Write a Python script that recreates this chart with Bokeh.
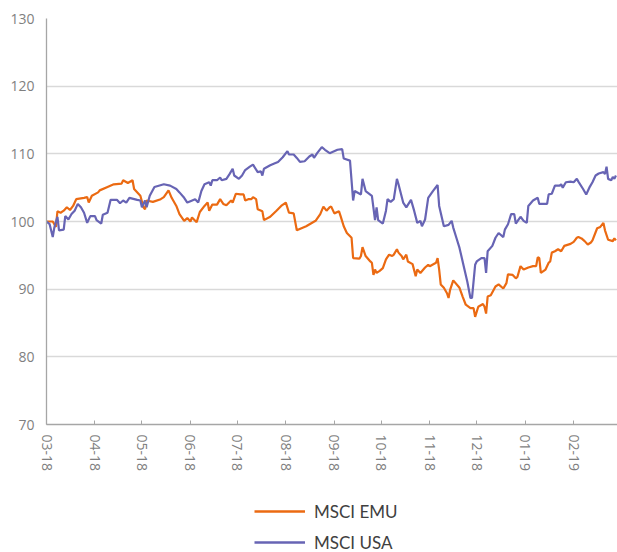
import pandas as pd
from bokeh.plotting import figure
from bokeh.layouts import column
from bokeh.models import (FixedTicker, DatetimeTickFormatter, Range1d, Legend,
                          LegendItem, ColumnDataSource)
from bokeh.embed import file_html
from bokeh.resources import INLINE

series_names = ["MSCI EMU", "MSCI USA"]
series_colors = ["#EB6A12", "#6764B4"]

emu_dates = [
    "2018-03-01", "2018-03-05", "2018-03-07", "2018-03-08", "2018-03-10", "2018-03-12", "2018-03-14", "2018-03-16", "2018-03-18", "2018-03-20",
    "2018-03-25", "2018-03-27", "2018-03-28", "2018-03-30", "2018-04-03", "2018-04-04", "2018-04-09", "2018-04-13", "2018-04-18", "2018-04-19",
    "2018-04-22", "2018-04-25", "2018-04-26", "2018-04-30", "2018-05-02", "2018-05-03", "2018-05-04", "2018-05-08", "2018-05-13", "2018-05-15",
    "2018-05-18", "2018-05-20", "2018-05-23", "2018-05-25", "2018-05-28", "2018-05-30", "2018-06-01", "2018-06-02", "2018-06-05", "2018-06-07",
    "2018-06-10", "2018-06-12", "2018-06-13", "2018-06-15", "2018-06-18", "2018-06-20", "2018-06-22", "2018-06-24", "2018-06-27", "2018-06-28",
    "2018-06-30", "2018-07-03", "2018-07-05", "2018-07-06", "2018-07-08", "2018-07-10", "2018-07-11", "2018-07-13", "2018-07-14", "2018-07-17",
    "2018-07-18", "2018-07-22", "2018-07-26", "2018-07-29", "2018-08-01", "2018-08-03", "2018-08-06", "2018-08-08", "2018-08-11", "2018-08-14",
    "2018-08-17", "2018-08-20", "2018-08-23", "2018-08-25", "2018-08-27", "2018-08-29", "2018-08-30", "2018-09-01", "2018-09-04", "2018-09-05",
    "2018-09-07", "2018-09-09", "2018-09-12", "2018-09-13", "2018-09-17", "2018-09-18", "2018-09-19", "2018-09-21", "2018-09-24", "2018-09-25",
    "2018-09-26", "2018-09-27", "2018-09-28", "2018-09-30", "2018-10-02", "2018-10-04", "2018-10-06", "2018-10-08", "2018-10-09", "2018-10-11",
    "2018-10-12", "2018-10-14", "2018-10-15", "2018-10-17", "2018-10-18", "2018-10-21", "2018-10-23", "2018-10-24", "2018-10-26", "2018-10-29",
    "2018-10-31", "2018-11-01", "2018-11-05", "2018-11-06", "2018-11-07", "2018-11-08", "2018-11-10", "2018-11-12", "2018-11-13", "2018-11-14",
    "2018-11-16", "2018-11-20", "2018-11-22", "2018-11-24", "2018-11-27", "2018-11-29", "2018-11-30", "2018-12-02", "2018-12-05", "2018-12-06",
    "2018-12-07", "2018-12-08", "2018-12-10", "2018-12-13", "2018-12-15", "2018-12-18", "2018-12-20", "2018-12-21", "2018-12-24", "2018-12-26",
    "2018-12-27", "2018-12-29", "2018-12-31", "2019-01-03", "2019-01-06", "2019-01-08", "2019-01-09", "2019-01-10", "2019-01-11", "2019-01-14",
    "2019-01-16", "2019-01-17", "2019-01-18", "2019-01-20", "2019-01-22", "2019-01-24", "2019-01-26", "2019-01-30", "2019-02-01", "2019-02-03",
    "2019-02-04", "2019-02-06", "2019-02-08", "2019-02-10", "2019-02-12", "2019-02-13", "2019-02-16", "2019-02-18", "2019-02-20", "2019-02-21",
    "2019-02-23", "2019-02-26", "2019-02-27", "2019-02-28",
]
emu_values = [
    100.0, 100.0, 99.2, 101.5, 101.3, 101.6, 102.1, 101.7, 102.3, 103.3,
    103.5, 103.6, 102.8, 103.8, 104.3, 104.6, 105.1, 105.5, 105.6, 106.1,
    105.7, 106.1, 104.8, 103.8, 102.1, 101.8, 103.1, 102.9, 103.3, 103.6,
    104.6, 103.5, 102.3, 101.1, 100.1, 100.5, 100.0, 100.6, 99.9, 101.4,
    102.3, 102.8, 101.6, 102.5, 102.5, 103.3, 102.6, 102.4, 103.1, 102.8,
    104.1, 104.0, 104.0, 103.1, 103.3, 103.3, 103.6, 103.3, 101.8, 101.5,
    100.2, 100.7, 101.6, 102.3, 102.8, 101.3, 101.2, 98.7, 99.0, 99.3,
    99.7, 100.1, 101.1, 102.2, 101.6, 102.1, 102.2, 101.2, 101.5, 100.8,
    99.3, 98.3, 97.6, 94.6, 94.5, 94.9, 96.2, 94.9, 94.1, 93.9,
    92.1, 92.9, 92.4, 92.7, 93.1, 94.4, 95.1, 94.9, 95.1, 95.9,
    95.4, 94.9, 94.4, 95.1, 94.1, 93.7, 91.9, 92.9, 92.4, 93.2,
    93.6, 93.4, 93.9, 94.6, 92.9, 90.7, 90.2, 89.4, 88.7, 89.9,
    91.3, 90.2, 88.9, 87.7, 87.2, 87.2, 85.9, 87.4, 87.8, 87.4,
    86.4, 88.9, 89.1, 90.4, 90.7, 90.1, 90.9, 92.2, 92.1, 91.6,
    91.8, 93.4, 92.9, 93.2, 93.4, 93.4, 94.7, 94.6, 92.4, 92.9,
    93.9, 94.1, 95.4, 95.6, 95.9, 95.6, 96.4, 96.7, 97.0, 97.6,
    97.7, 97.5, 97.1, 96.6, 96.9, 97.2, 99.0, 99.2, 99.8, 98.7,
    97.3, 97.1, 97.5, 97.2,
]

usa_dates = [
    "2018-03-01", "2018-03-03", "2018-03-05", "2018-03-06", "2018-03-08", "2018-03-09", "2018-03-12", "2018-03-13", "2018-03-15", "2018-03-17",
    "2018-03-19", "2018-03-21", "2018-03-23", "2018-03-25", "2018-03-27", "2018-03-29", "2018-04-01", "2018-04-02", "2018-04-05", "2018-04-06",
    "2018-04-09", "2018-04-11", "2018-04-15", "2018-04-17", "2018-04-19", "2018-04-21", "2018-04-23", "2018-04-28", "2018-04-30", "2018-05-01",
    "2018-05-03", "2018-05-04", "2018-05-06", "2018-05-09", "2018-05-15", "2018-05-19", "2018-05-23", "2018-05-25", "2018-05-28", "2018-05-30",
    "2018-06-01", "2018-06-04", "2018-06-06", "2018-06-08", "2018-06-10", "2018-06-13", "2018-06-14", "2018-06-15", "2018-06-18", "2018-06-20",
    "2018-06-21", "2018-06-24", "2018-06-26", "2018-06-28", "2018-06-29", "2018-07-02", "2018-07-04", "2018-07-06", "2018-07-09", "2018-07-11",
    "2018-07-14", "2018-07-16", "2018-07-17", "2018-07-18", "2018-07-22", "2018-07-25", "2018-07-27", "2018-07-30", "2018-08-02", "2018-08-03",
    "2018-08-06", "2018-08-08", "2018-08-10", "2018-08-13", "2018-08-16", "2018-08-18", "2018-08-19", "2018-08-21", "2018-08-24", "2018-08-26",
    "2018-08-29", "2018-09-03", "2018-09-06", "2018-09-07", "2018-09-11", "2018-09-13", "2018-09-14", "2018-09-18", "2018-09-19", "2018-09-21",
    "2018-09-25", "2018-09-27", "2018-09-28", "2018-09-29", "2018-10-02", "2018-10-04", "2018-10-05", "2018-10-07", "2018-10-09", "2018-10-11",
    "2018-10-12", "2018-10-15", "2018-10-17", "2018-10-20", "2018-10-22", "2018-10-24", "2018-10-26", "2018-10-27", "2018-10-29", "2018-10-31",
    "2018-11-03", "2018-11-06", "2018-11-07", "2018-11-09", "2018-11-10", "2018-11-13", "2018-11-15", "2018-11-16", "2018-11-18", "2018-11-20",
    "2018-11-23", "2018-11-25", "2018-11-27", "2018-11-28", "2018-11-30", "2018-12-01", "2018-12-04", "2018-12-06", "2018-12-07", "2018-12-08",
    "2018-12-11", "2018-12-13", "2018-12-15", "2018-12-18", "2018-12-19", "2018-12-21", "2018-12-23", "2018-12-25", "2018-12-26", "2018-12-29",
    "2018-12-31", "2019-01-02", "2019-01-03", "2019-01-06", "2019-01-09", "2019-01-10", "2019-01-15", "2019-01-16", "2019-01-18", "2019-01-20",
    "2019-01-23", "2019-01-24", "2019-01-25", "2019-01-27", "2019-01-30", "2019-02-01", "2019-02-03", "2019-02-04", "2019-02-07", "2019-02-09",
    "2019-02-11", "2019-02-13", "2019-02-15", "2019-02-17", "2019-02-20", "2019-02-21", "2019-02-22", "2019-02-23", "2019-02-25", "2019-02-26",
    "2019-02-27", "2019-02-28",
]
usa_values = [
    100.0, 99.6, 97.7, 99.1, 100.7, 98.7, 98.8, 100.8, 100.3, 101.1,
    101.6, 102.6, 102.1, 101.3, 99.8, 100.8, 100.8, 100.2, 99.7, 101.0,
    101.3, 103.2, 103.2, 102.7, 103.1, 102.8, 103.5, 103.2, 103.1, 102.1,
    103.1, 102.1, 103.8, 105.1, 105.5, 105.3, 104.8, 104.3, 103.5, 102.8,
    103.0, 103.3, 102.8, 104.5, 105.5, 105.8, 105.3, 106.1, 106.1, 106.5,
    106.1, 106.3, 107.0, 107.8, 106.8, 106.3, 106.8, 107.6, 108.1, 108.4,
    107.3, 107.4, 106.8, 107.8, 108.3, 108.6, 108.8, 109.5, 110.4, 109.9,
    109.9, 109.4, 108.8, 108.9, 109.6, 109.9, 109.4, 110.1, 111.0, 110.6,
    110.1, 110.6, 110.7, 109.3, 109.0, 103.1, 104.5, 104.0, 106.3, 104.5,
    103.8, 100.2, 102.1, 100.2, 99.7, 101.6, 103.3, 102.9, 103.3, 106.3,
    105.5, 102.8, 102.1, 103.2, 101.6, 99.8, 100.1, 99.3, 100.3, 103.5,
    104.5, 105.4, 102.3, 100.3, 99.3, 99.5, 100.1, 99.1, 97.6, 96.1,
    93.1, 91.1, 88.7, 88.7, 93.6, 94.1, 94.6, 94.6, 92.4, 95.6,
    96.4, 97.6, 98.3, 97.7, 98.8, 99.6, 101.1, 101.1, 99.7, 100.7,
    100.1, 99.8, 102.3, 103.1, 103.5, 102.6, 102.6, 104.0, 104.1, 105.3,
    105.3, 105.5, 105.0, 105.8, 105.9, 105.8, 106.3, 105.9, 104.8, 104.0,
    105.0, 105.8, 106.8, 107.1, 107.3, 107.0, 108.1, 106.3, 106.1, 106.6,
    106.3, 106.8,
]

month_ticks = ["2018-03-01", "2018-04-01", "2018-05-01", "2018-06-01", "2018-07-01", "2018-08-01",
               "2018-09-01", "2018-10-01", "2018-11-01", "2018-12-01", "2019-01-01", "2019-02-01"]
y_ticks = [70, 80, 90, 100, 110, 120, 130]
x_start, x_end = "2018-03-01", "2019-03-01"

emu_src = ColumnDataSource(dict(date=pd.to_datetime(emu_dates), value=emu_values))
usa_src = ColumnDataSource(dict(date=pd.to_datetime(usa_dates), value=usa_values))

tick_ms = [pd.Timestamp(t).timestamp() * 1000.0 for t in month_ticks]

# ---- main chart ----
p = figure(width=617, height=480, x_axis_type="datetime",
           x_range=Range1d(start=pd.Timestamp(x_start), end=pd.Timestamp(x_end)),
           y_range=Range1d(start=70, end=130),
           output_backend="svg", toolbar_location=None,
           min_border_left=46, min_border_right=0, min_border_top=18, min_border_bottom=56)
p.outline_line_color = None
p.background_fill_color = "white"
p.border_fill_color = "white"

p.xgrid.grid_line_color = None
p.ygrid.ticker = FixedTicker(ticks=y_ticks)
p.ygrid.grid_line_color = "#D9D9D9"
p.ygrid.grid_line_width = 1.3

p.yaxis.ticker = FixedTicker(ticks=y_ticks)
p.xaxis.ticker = FixedTicker(ticks=tick_ms)
fmt = "%m-%y"
p.xaxis.formatter = DatetimeTickFormatter(milliseconds=fmt, seconds=fmt, minsec=fmt, minutes=fmt,
                                          hourmin=fmt, hours=fmt, days=fmt, months=fmt, years=fmt)
p.xaxis.major_label_orientation = "vertical"

for ax in (p.xaxis, p.yaxis):
    ax.axis_line_color = "#A6A6A6"
    ax.axis_line_width = 1.3
    ax.major_tick_line_color = "#A6A6A6"
    ax.minor_tick_line_color = None
    ax.major_label_text_font = "Open Sans"
    ax.major_label_text_font_size = "14px"
    ax.major_label_text_color = "#7F7F7F"

p.xaxis.major_tick_in = 4
p.xaxis.major_tick_out = 0
p.xaxis.major_label_standoff = 10
p.yaxis.major_tick_in = 0
p.yaxis.major_tick_out = 0
p.yaxis.major_label_standoff = 12

p.line(x="date", y="value", source=emu_src, line_color=series_colors[0], line_width=2.2)
p.line(x="date", y="value", source=usa_src, line_color=series_colors[1], line_width=2.2)

# ---- legend strip below the chart (keys reuse the series, outside its view) ----
lg = figure(width=617, height=72, output_backend="svg", toolbar_location=None,
            x_range=Range1d(0, 1), y_range=Range1d(0, 1),
            x_axis_location=None, y_axis_location=None, min_border=0)
lg.outline_line_color = None
lg.grid.grid_line_color = None
lg.background_fill_color = "white"
lg.border_fill_color = "white"
key_emu = lg.line(x="date", y="value", source=emu_src, line_color=series_colors[0], line_width=2.5)
key_usa = lg.line(x="date", y="value", source=usa_src, line_color=series_colors[1], line_width=2.5)

legend = Legend(items=[LegendItem(label=series_names[0], renderers=[key_emu]),
                       LegendItem(label=series_names[1], renderers=[key_usa])],
                location=(208, -1), orientation="vertical",
                glyph_width=51, glyph_height=22, label_height=22, label_standoff=9,
                spacing=9, padding=0, margin=0,
                border_line_color=None, background_fill_alpha=0,
                label_text_font="Lato", label_text_font_size="17px", label_text_color="#404040")
lg.add_layout(legend)

open("out.html", "w").write(file_html(column(p, lg, spacing=0), INLINE))
